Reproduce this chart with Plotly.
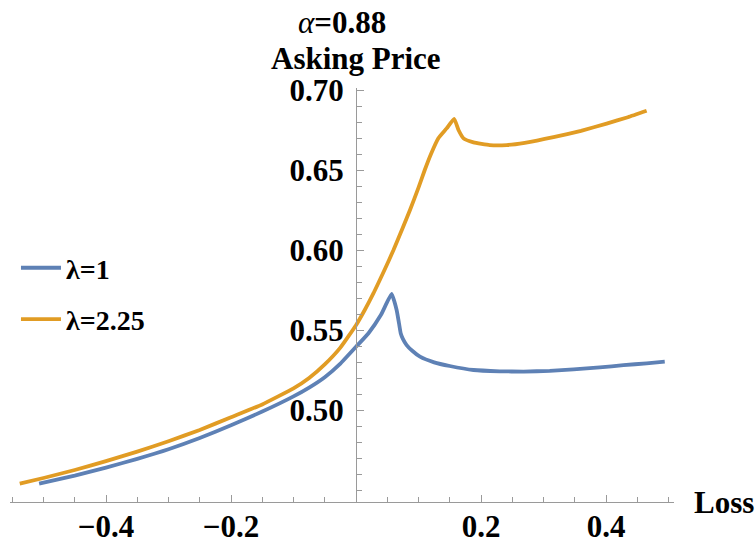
import plotly.graph_objects as go

# ---- data ----
loss_l1 = [-0.507, -0.45, -0.40, -0.35, -0.30, -0.25, -0.20, -0.15, -0.10, -0.075, -0.05, -0.025,
           0.0, 0.02, 0.04, 0.057, 0.065, 0.0688, 0.0715, 0.075, 0.081, 0.09, 0.1024, 0.125, 0.150, 0.188,
           0.23, 0.268, 0.31, 0.348, 0.39, 0.428, 0.465, 0.494]
price_l1 = [0.4540, 0.4590, 0.4640, 0.4695, 0.4755, 0.4825, 0.4905, 0.4990, 0.5085, 0.5140, 0.5205, 0.5290,
            0.5395, 0.5480, 0.5595, 0.5725, 0.5625, 0.5542, 0.5480, 0.5445, 0.5406, 0.5370, 0.5333, 0.5298, 0.5275, 0.5250,
            0.5242, 0.5240, 0.5245, 0.5254, 0.5266, 0.5280, 0.5292, 0.5302]

loss_l225 = [-0.538, -0.50, -0.45, -0.40, -0.35, -0.30, -0.25, -0.20, -0.15, -0.10, -0.075, -0.05, -0.025,
             0.0, 0.014, 0.028, 0.045, 0.06, 0.075, 0.0864, 0.10, 0.110, 0.12, 0.132, 0.145, 0.157,
             0.164, 0.172, 0.188, 0.214, 0.241, 0.27, 0.316, 0.36, 0.401, 0.435, 0.465]
price_l225 = [0.4540, 0.4575, 0.4625, 0.4680, 0.4740, 0.4805, 0.4875, 0.4955, 0.5035, 0.5135, 0.5200, 0.5285, 0.5390,
              0.5530, 0.5625, 0.5730, 0.5870, 0.6000, 0.6140, 0.6250, 0.6390, 0.6500, 0.6600, 0.6700, 0.6760, 0.6820,
              0.6750, 0.6698, 0.6673, 0.6656, 0.6656, 0.6670, 0.6705, 0.6745, 0.6790, 0.6830, 0.6870]

series_names = ["λ=1", "λ=2.25"]
series_colors = ["#5E81B5", "#E19C24"]

x_tickvals = [-0.4, -0.2, 0.2, 0.4]
x_ticktext = ["−0.4", "−0.2", "0.2", "0.4"]
y_tickvals = [0.50, 0.55, 0.60, 0.65, 0.70]
y_ticktext = ["0.50", "0.55", "0.60", "0.65", "0.70"]

x_range = [-0.5536, 0.5088]
y_range = [0.4425, 0.70125]

FONT = "Liberation Serif"
AXIS_COLOR = "#9a9a9a"
FS = 31

fig = go.Figure()
for i, (xs, ys) in enumerate([(loss_l1, price_l1), (loss_l225, price_l225)]):
    fig.add_trace(go.Scatter(
        x=xs, y=ys, mode="lines", name=series_names[i], legendgroup=f"g{i}",
        line=dict(color=series_colors[i], width=3.8, shape="spline", smoothing=0.4),
    ))

ypos = (0 - x_range[0]) / (x_range[1] - x_range[0])

fig.update_layout(
    width=756, height=544,
    margin=dict(l=10, r=82, t=88, b=42, autoexpand=False),
    paper_bgcolor="white", plot_bgcolor="white",
    font=dict(family=FONT, size=FS, color="black"),
    showlegend=True,
    legend=dict(
        x=0.009, y=0.6255, xanchor="left", yanchor="top",
        bgcolor="rgba(0,0,0,0)", borderwidth=0,
        font=dict(family=FONT, size=28, color="black", weight="bold"),
        tracegroupgap=12, itemwidth=40,
    ),
    xaxis=dict(
        range=x_range, showgrid=False, zeroline=False, automargin=False,
        showline=True, linecolor=AXIS_COLOR, linewidth=1,
        ticks="inside", ticklen=7, tickcolor=AXIS_COLOR, tickwidth=1,
        tickmode="array", tickvals=x_tickvals, ticktext=x_ticktext,
        tickfont=dict(family=FONT, size=FS, color="black", weight="bold"),
        minor=dict(ticks="inside", ticklen=5, tickcolor=AXIS_COLOR, tick0=0, dtick=0.05, showgrid=False),
        ticklabelstandoff=-3,
    ),
    yaxis=dict(
        range=y_range, showgrid=False, zeroline=False, automargin=False,
        anchor="free", position=ypos,
        showline=True, linecolor=AXIS_COLOR, linewidth=1,
        ticks="inside", ticklen=7, tickcolor=AXIS_COLOR, tickwidth=1,
        tickmode="array", tickvals=y_tickvals, ticktext=y_ticktext,
        tickfont=dict(family=FONT, size=FS, color="black", weight="bold"),
        minor=dict(ticks="inside", ticklen=5, tickcolor=AXIS_COLOR, tick0=0, dtick=0.01, showgrid=False),
        ticklabelstandoff=6,
    ),
)

fig.add_annotation(
    text="<i>α</i><b>=0.88</b>", xref="paper", yref="paper", x=0.5, y=1,
    xanchor="center", yanchor="bottom", yshift=46, showarrow=False,
    font=dict(family=FONT, size=FS, color="black"),
)
fig.add_annotation(
    text="<b>Asking Price</b>", xref="paper", yref="paper", x=ypos, y=1,
    xanchor="center", yanchor="bottom", yshift=10, showarrow=False,
    font=dict(family=FONT, size=FS, color="black"),
)
fig.add_annotation(
    text="<b>Loss</b>", xref="paper", yref="paper", x=1, y=0,
    xanchor="left", yanchor="middle", xshift=18, showarrow=False,
    font=dict(family=FONT, size=FS, color="black"),
)

fig.write_html("out.html", config={"displayModeBar": False},
               post_script="document.body.style.margin='0px';")
